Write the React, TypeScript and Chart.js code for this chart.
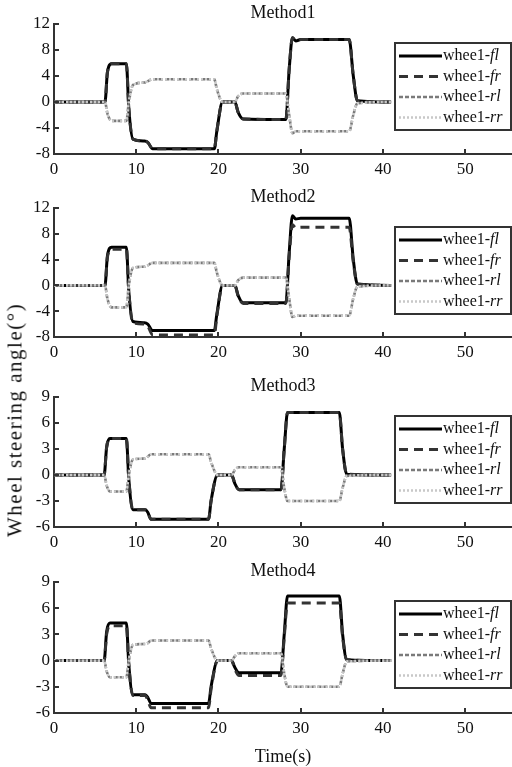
import React, { useEffect, useRef } from "react";
import { Chart, registerables } from "chart.js";

Chart.register(...registerables);

// Axis ticks
const xTicks = [0, 10, 20, 30, 40, 50];
const yTicksWide = [-8, -4, 0, 4, 8, 12];
const yTicksNarrow = [-6, -3, 0, 3, 6, 9];

// Legend
const legendPrefix = "whee1-";
const seriesNames = ["fl", "fr", "rl", "rr"];
const panelTitles = ["Method1", "Method2", "Method3", "Method4"];

// Method1: steering angles (deg) against time (s)
const m1Time = [0, 6.2, 6.5, 7.0, 8.8, 9.1, 9.6, 11.0, 11.4, 12.0, 19.5, 19.8, 20.5, 22.0, 22.4, 23.0, 28.2, 28.6, 29.0, 29.4, 30.0, 35.9, 36.4, 36.9, 41.0];
const m1Fl = [0, 0, 4.6, 5.9, 5.9, -1.0, -5.7, -6.0, -6.2, -7.2, -7.2, -4.5, 0, 0, -1.6, -2.6, -2.7, 5.0, 9.9, 9.4, 9.6, 9.6, 4.0, 0.2, 0];
const m1Fr = [0, 0, 4.6, 5.9, 5.9, -1.0, -5.7, -6.0, -6.2, -7.2, -7.2, -4.5, 0, 0, -1.6, -2.6, -2.7, 5.0, 9.9, 9.4, 9.6, 9.6, 4.0, 0.2, 0];
const m1Rl = [0, 0, -1.8, -2.9, -2.9, 0, 2.6, 3.0, 3.2, 3.5, 3.5, 2.0, 0, 0, 0.9, 1.3, 1.3, -2.0, -4.8, -4.5, -4.5, -4.5, -2.0, -0.2, 0];
const m1Rr = [0, 0, -1.8, -2.9, -2.9, 0, 2.6, 3.0, 3.2, 3.5, 3.5, 2.0, 0, 0, 0.9, 1.3, 1.3, -2.0, -4.8, -4.5, -4.5, -4.5, -2.0, -0.2, 0];

// Method2
const m2Time = [0, 6.2, 6.5, 7.0, 8.8, 9.1, 9.6, 11.0, 11.4, 12.0, 19.5, 19.8, 20.5, 22.0, 22.4, 23.0, 28.2, 28.6, 29.0, 29.4, 30.0, 35.9, 36.4, 36.9, 41.0];
const m2Fl = [0, 0, 4.6, 5.9, 5.9, -1.0, -5.6, -5.8, -6.0, -7.0, -7.0, -4.5, 0, 0, -1.6, -2.7, -2.7, 5.0, 10.8, 10.3, 10.4, 10.4, 4.0, 0.2, 0];
const m2Fr = [0, 0, 4.4, 5.6, 5.6, -1.0, -5.8, -6.0, -6.3, -7.7, -7.7, -4.8, 0, 0, -1.7, -2.8, -2.8, 4.5, 9.4, 8.9, 9.0, 9.0, 3.6, 0.2, 0];
const m2Rl = [0, 0, -2.1, -3.4, -3.4, 0, 2.7, 2.9, 3.1, 3.5, 3.5, 2.0, 0, 0, 0.8, 1.2, 1.2, -2.0, -4.9, -4.7, -4.7, -4.7, -2.0, -0.2, 0];
const m2Rr = [0, 0, -2.1, -3.4, -3.4, 0, 2.7, 2.9, 3.1, 3.5, 3.5, 2.0, 0, 0, 0.8, 1.2, 1.2, -2.0, -4.9, -4.7, -4.7, -4.7, -2.0, -0.2, 0];

// Method3
const m3Time = [0, 6.1, 6.4, 6.8, 8.8, 9.1, 9.6, 11.1, 11.4, 11.8, 18.8, 19.1, 19.9, 21.6, 22.0, 22.5, 27.6, 28.0, 28.4, 34.7, 35.1, 35.6, 41.0];
const m3Fl = [0, 0, 3.2, 4.2, 4.2, -0.5, -4.0, -4.0, -4.3, -5.1, -5.1, -3.0, 0, 0, -1.0, -1.7, -1.7, 3.0, 7.2, 7.2, 3.0, 0.1, 0];
const m3Fr = [0, 0, 3.2, 4.2, 4.2, -0.5, -4.0, -4.0, -4.3, -5.1, -5.1, -3.0, 0, 0, -1.0, -1.7, -1.7, 3.0, 7.2, 7.2, 3.0, 0.1, 0];
const m3Rl = [0, 0, -1.2, -1.9, -1.9, 0, 1.8, 1.9, 2.1, 2.4, 2.4, 1.5, 0, 0, 0.6, 0.9, 0.9, -1.5, -3.0, -3.0, -1.5, -0.1, 0];
const m3Rr = [0, 0, -1.2, -1.9, -1.9, 0, 1.8, 1.9, 2.1, 2.4, 2.4, 1.5, 0, 0, 0.6, 0.9, 0.9, -1.5, -3.0, -3.0, -1.5, -0.1, 0];

// Method4
const m4Time = [0, 6.1, 6.4, 6.8, 8.8, 9.1, 9.6, 11.1, 11.4, 11.8, 18.8, 19.1, 19.9, 21.6, 22.0, 22.5, 27.6, 28.0, 28.4, 34.7, 35.1, 35.6, 41.0];
const m4Fl = [0, 0, 3.3, 4.3, 4.3, -0.5, -3.9, -3.9, -4.2, -4.9, -4.9, -3.0, 0, 0, -0.8, -1.4, -1.4, 3.0, 7.4, 7.4, 3.0, 0.1, 0];
const m4Fr = [0, 0, 3.0, 4.0, 4.0, -0.5, -4.0, -4.0, -4.5, -5.4, -5.4, -3.3, 0, 0, -1.0, -1.7, -1.7, 2.7, 6.6, 6.6, 2.7, 0.1, 0];
const m4Rl = [0, 0, -1.2, -1.9, -1.9, 0, 1.8, 1.9, 2.0, 2.3, 2.3, 1.4, 0, 0, 0.5, 0.85, 0.85, -1.5, -3.0, -3.0, -1.5, -0.1, 0];
const m4Rr = [0, 0, -1.2, -1.9, -1.9, 0, 1.8, 1.9, 2.0, 2.3, 2.3, 1.4, 0, 0, 0.5, 0.85, 0.85, -1.5, -3.0, -3.0, -1.5, -0.1, 0];

const FONT = "'Liberation Serif', 'DejaVu Serif', serif";

type LineStyle = { color: string; width: number; dash: number[] };
const lineStyles: LineStyle[] = [
  { color: "#000000", width: 3, dash: [] },
  { color: "#333333", width: 3, dash: [9, 6] },
  { color: "#7a7a7a", width: 2.6, dash: [4, 2] },
  { color: "#c8c8c8", width: 2.6, dash: [2, 2] },
];

const PAD_TOP = 30;
const Y_AXIS_W = 54;
const X_AXIS_H = 36;

const decorPlugin = {
  id: "panelDecor",
  afterDraw(chart: any, _args: any, opts: any) {
    const { ctx, chartArea } = chart;
    const xs = chart.scales.x;
    const ys = chart.scales.y;
    ctx.save();

    // inward tick marks
    ctx.strokeStyle = "#333";
    ctx.lineWidth = 2;
    ctx.setLineDash([]);
    ctx.beginPath();
    xs.ticks.forEach((t: any) => {
      const px = Math.round(xs.getPixelForValue(t.value));
      if (px <= chartArea.left + 1) return;
      ctx.moveTo(px, chartArea.bottom);
      ctx.lineTo(px, chartArea.bottom - 5);
    });
    ys.ticks.forEach((t: any) => {
      const py = Math.round(ys.getPixelForValue(t.value));
      if (py >= chartArea.bottom - 1) return;
      ctx.moveTo(chartArea.left, py);
      ctx.lineTo(chartArea.left + 5, py);
    });
    ctx.stroke();

    // panel title
    ctx.fillStyle = "#111";
    ctx.font = `18px ${FONT}`;
    ctx.textAlign = "center";
    ctx.textBaseline = "middle";
    ctx.fillText(opts.title, (chartArea.left + chartArea.right) / 2, chartArea.top - 11);

    // x-axis title
    if (opts.xTitle) {
      ctx.fillText(opts.xTitle, (chartArea.left + chartArea.right) / 2, chartArea.bottom + 44);
    }

    // legend box
    const bx = 395;
    const by = chartArea.top + 19;
    const bw = 116;
    const bh = 87;
    ctx.fillStyle = "#fff";
    ctx.fillRect(bx, by, bw, bh);
    ctx.strokeStyle = "#333";
    ctx.lineWidth = 2;
    ctx.strokeRect(bx, by, bw, bh);

    seriesNames.forEach((name, i) => {
      const cy = by + 13 + i * 20.5;
      const st = lineStyles[i];
      ctx.strokeStyle = st.color;
      ctx.lineWidth = st.width;
      ctx.setLineDash(st.dash);
      ctx.beginPath();
      ctx.moveTo(399, cy);
      ctx.lineTo(442, cy);
      ctx.stroke();
      ctx.setLineDash([]);
      ctx.fillStyle = "#111";
      ctx.textAlign = "left";
      ctx.textBaseline = "middle";
      ctx.font = `16px ${FONT}`;
      ctx.fillText(legendPrefix, 443, cy);
      const w = ctx.measureText(legendPrefix).width;
      ctx.font = `italic 16px ${FONT}`;
      ctx.fillText(name, 443 + w, cy);
    });

    ctx.restore();
  },
};

type PanelProps = {
  title: string;
  time: number[];
  series: number[][];
  yMin: number;
  yMax: number;
  yTicks: number[];
  plotTop: number;
  plotBottom: number;
  xTitle?: string;
};

function Panel(p: PanelProps) {
  const ref = useRef<HTMLCanvasElement | null>(null);
  const extra = p.xTitle ? 30 : 0;
  const height = p.plotBottom - p.plotTop + PAD_TOP + X_AXIS_H + extra;

  useEffect(() => {
    if (!ref.current) return;
    const datasets = p.series.map((vals, i) => ({
      label: legendPrefix + seriesNames[i],
      data: p.time.map((t, j) => ({ x: t, y: vals[j] })),
      borderColor: lineStyles[i].color,
      borderWidth: lineStyles[i].width,
      borderDash: lineStyles[i].dash,
      pointRadius: 0,
      fill: false,
      cubicInterpolationMode: "monotone" as const,
      order: 3 - i,
    }));
    const chart = new Chart(ref.current, {
      type: "line",
      data: { datasets },
      options: {
        animation: false,
        responsive: false,
        maintainAspectRatio: false,
        layout: { padding: { top: PAD_TOP, left: 0, right: 0, bottom: extra } },
        plugins: {
          legend: { display: false },
          title: { display: false },
          tooltip: { enabled: false },
          panelDecor: { title: p.title, xTitle: p.xTitle },
        } as any,
        scales: {
          x: {
            type: "linear",
            min: 0,
            max: 55.7,
            afterBuildTicks: (s: any) => {
              s.ticks = xTicks.map((v) => ({ value: v }));
            },
            afterFit: (s: any) => {
              s.height = X_AXIS_H;
            },
            grid: { display: false, drawTicks: false },
            border: { display: true, color: "#333", width: 2 },
            ticks: { color: "#111", padding: 5, font: { family: FONT, size: 17 }, maxRotation: 0, autoSkip: false },
          },
          y: {
            type: "linear",
            min: p.yMin,
            max: p.yMax,
            afterBuildTicks: (s: any) => {
              s.ticks = p.yTicks.map((v) => ({ value: v }));
            },
            afterFit: (s: any) => {
              s.width = Y_AXIS_W;
            },
            grid: { display: false, drawTicks: false },
            border: { display: true, color: "#333", width: 2 },
            ticks: { color: "#111", padding: 4, font: { family: FONT, size: 17 } },
          },
        },
      },
      plugins: [decorPlugin],
    });
    return () => chart.destroy();
  }, []);

  return (
    <canvas
      ref={ref}
      width={512}
      height={height}
      style={{ position: "absolute", left: 0, top: p.plotTop - PAD_TOP, width: 512, height }}
    />
  );
}

export default function App() {
  return (
    <div style={{ position: "absolute", left: 0, top: 0, width: 512, height: 767, background: "#fff", overflow: "hidden" }}>
      <Panel title={panelTitles[0]} time={m1Time} series={[m1Fl, m1Fr, m1Rl, m1Rr]} yMin={-8} yMax={12} yTicks={yTicksWide} plotTop={24} plotBottom={154} />
      <Panel title={panelTitles[1]} time={m2Time} series={[m2Fl, m2Fr, m2Rl, m2Rr]} yMin={-8} yMax={12} yTicks={yTicksWide} plotTop={208} plotBottom={337} />
      <Panel title={panelTitles[2]} time={m3Time} series={[m3Fl, m3Fr, m3Rl, m3Rr]} yMin={-6} yMax={9} yTicks={yTicksNarrow} plotTop={397} plotBottom={527} />
      <Panel title={panelTitles[3]} time={m4Time} series={[m4Fl, m4Fr, m4Rl, m4Rr]} yMin={-6} yMax={9} yTicks={yTicksNarrow} plotTop={582} plotBottom={713} xTitle="Time(s)" />
      <div
        style={{
          position: "absolute",
          left: 15,
          top: 420,
          transform: "translate(-50%, -50%) rotate(-90deg)",
          whiteSpace: "nowrap",
          fontFamily: FONT,
          fontSize: 21,
          letterSpacing: 1.5,
          color: "#111",
        }}
      >
        Wheel steering angle(°)
      </div>
    </div>
  );
}
